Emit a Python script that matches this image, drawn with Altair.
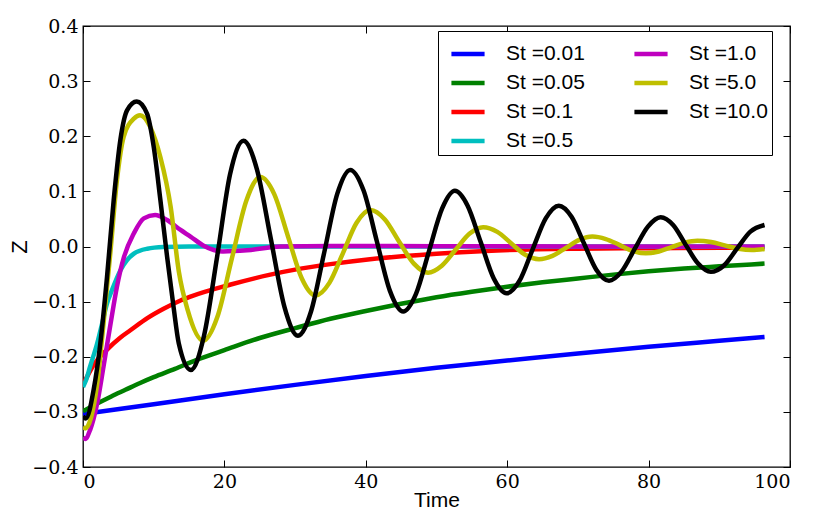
import altair as alt
import pandas as pd

# ---------------- data ----------------
labels = ["St =0.01", "St =0.05", "St =0.1", "St =0.5", "St =1.0", "St =5.0", "St =10.0"]
colors = ["#0000ff", "#008000", "#ff0000", "#00bfbf", "#bf00bf", "#bfbf00", "#000000"]

x_ticks = [0, 20, 40, 60, 80, 100]
y_ticks = [-0.4, -0.3, -0.2, -0.1, 0.0, 0.1, 0.2, 0.3, 0.4]

blue_t = [0, 10, 20, 30, 40, 50, 60, 70, 80, 90, 96.4]
blue_z = [-0.304, -0.286, -0.268, -0.251, -0.235, -0.220, -0.207, -0.194, -0.182, -0.171, -0.164]

green_t = [0, 2, 4, 6, 8, 10, 13, 16, 20, 25, 30, 35, 40, 45, 50, 55, 60, 65, 70, 75, 80, 85, 90, 96.4]
green_z = [-0.299, -0.285, -0.272, -0.260, -0.248, -0.237, -0.222, -0.206, -0.188, -0.166, -0.148,
           -0.131, -0.117, -0.104, -0.092, -0.082, -0.073, -0.065, -0.058, -0.051, -0.045, -0.040,
           -0.036, -0.031]

red_t = [0, 1.5, 3.4, 5.3, 6.7, 9.1, 11.4, 13.8, 15.2, 20.9, 26.5, 30, 35, 40.6, 50, 57, 70, 80, 96.4]
red_z = [-0.251, -0.215, -0.187, -0.165, -0.152, -0.130, -0.113, -0.098, -0.091, -0.069, -0.051,
         -0.042, -0.032, -0.023, -0.013, -0.008, -0.004, -0.003, -0.002]

cyan_t = [0, 0.5, 1.0, 2.0, 2.7, 3.4, 4.1, 5.3, 6.2, 7.2, 9.1, 11.4, 15, 30, 60, 96.4]
cyan_z = [-0.255, -0.240, -0.218, -0.176, -0.140, -0.103, -0.079, -0.043, -0.025, -0.013, -0.004,
          -0.001, 0.0, 0.0, 0.0, 0.0]

magenta_t = [0, 0.3, 1.0, 2.0, 2.9, 3.9, 4.8, 5.8, 7.2, 8.6, 10.2, 11.9, 13.8, 15.2, 17.0, 19.8,
             23.2, 27.9, 35, 50, 96.4]
magenta_z = [-0.346, -0.349, -0.333, -0.285, -0.218, -0.140, -0.073, -0.019, 0.024, 0.051, 0.057,
             0.048, 0.030, 0.018, 0.002, -0.009, -0.007, 0.000, 0.001, 0.0005, 0.0]

yellow_t = [0, 0.3, 2.0, 2.9, 3.9, 4.8, 5.75, 7.2, 8.07, 9.5, 10.95, 12.4, 13.55, 14.8, 17.0, 19.0,
            21.05, 23.1, 25.1, 27.05, 29.0, 30.95, 32.9, 34.85, 36.8, 38.7, 40.65, 42.7, 44.7, 46.8,
            48.8, 50.75, 52.7, 54.65, 56.6, 58.6, 60.55, 62.5, 64.5, 66.4, 68.3, 70.2, 72.05, 73.95,
            75.85, 77.7, 79.6, 81.45, 83.25, 85.1, 86.9, 88.85, 90.75, 92.7, 94.6, 96.4]
yellow_z = [-0.327, -0.330, -0.250, -0.140, -0.007, 0.120, 0.199, 0.232, 0.238, 0.217, 0.162, 0.072,
            -0.045, -0.115, -0.171, -0.128, -0.022, 0.083, 0.126, 0.095, 0.018, -0.058, -0.089,
            -0.066, -0.011, 0.043, 0.066, 0.049, 0.009, -0.031, -0.0475, -0.035, -0.006, 0.023,
            0.035, 0.0265, 0.006, -0.0145, -0.023, -0.017, -0.0025, 0.012, 0.018, 0.0135, 0.003,
            -0.008, -0.0124, -0.009, -0.001, 0.007, 0.0105, 0.008, 0.002, -0.004, -0.0065, -0.0045]

black_t = [0, 0.4, 1.5, 2.45, 3.4, 4.34, 5.28, 6.23, 7.6, 9.06, 10.0, 10.95, 11.9, 12.8, 13.55,
           15.25, 17.1, 19.0, 20.8, 22.7, 24.6, 26.55, 28.5, 30.4, 32.25, 34.1, 35.95, 37.8, 39.7,
           41.55, 43.4, 45.3, 47.1, 48.95, 50.8, 52.6, 54.4, 56.25, 58.1, 59.9, 61.75, 63.6, 65.45,
           67.3, 69.1, 70.85, 72.6, 74.4, 76.2, 78.05, 79.9, 81.7, 83.5, 85.25, 87.0, 88.8, 90.7,
           92.55, 94.4, 96.4]
black_z = [-0.308, -0.312, -0.260, -0.176, -0.055, 0.084, 0.193, 0.247, 0.263, 0.241, 0.181, 0.084,
           -0.019, -0.109, -0.176, -0.224, -0.163, -0.016, 0.131, 0.192, 0.140, 0.015, -0.110,
           -0.162, -0.118, -0.012, 0.095, 0.139, 0.101, 0.010, -0.080, -0.118, -0.086, -0.008,
           0.069, 0.101, 0.074, 0.008, -0.058, -0.085, -0.062, -0.005, 0.051, 0.074, 0.054, 0.006,
           -0.042, -0.062, -0.045, -0.004, 0.036, 0.053, 0.0385, 0.003, -0.031, -0.046, -0.034,
           -0.003, 0.027, 0.039]

series_t = [blue_t, green_t, red_t, cyan_t, magenta_t, yellow_t, black_t]
series_z = [blue_z, green_z, red_z, cyan_z, magenta_z, yellow_z, black_z]

rows = []
for lab, ts, zs in zip(labels, series_t, series_z):
    assert len(ts) == len(zs), lab
    for t, z in zip(ts, zs):
        rows.append({"St": lab, "Time": t, "Z": z})
df = pd.DataFrame(rows)

W, H = 707, 441
TICK_FONT = "DejaVu Serif"
TICK_SIZE = 19

xscale = alt.Scale(domain=[0, 100], nice=False, zero=False)
yscale = alt.Scale(domain=[-0.4, 0.4], nice=False, zero=False)
cscale = alt.Scale(domain=labels, range=colors)

legend = alt.Legend(
    orient="none", legendX=355, legendY=5, columns=2, title=None,
    symbolType="stroke", symbolStrokeWidth=4.5, symbolSize=1100, symbolOffset=7,
    labelFont="Liberation Sans", labelFontSize=21, labelColor="black", labelOffset=19,
    rowPadding=0, columnPadding=40, padding=4,
    strokeColor="black", fillColor="white", cornerRadius=0,
)

tick_common = dict(labels=False, domain=False, grid=False, tickSize=7, tickWidth=1,
                   tickColor="black", title="")


def axes_for(i):
    if i == 0:
        xa = alt.Axis(values=x_ticks, format="d", ticks=False, domain=False, grid=False,
                      labelPadding=5, title="Time", titlePadding=-2,
                      labelFont=TICK_FONT, labelFontSize=TICK_SIZE, labelColor="black",
                      titleFont="Liberation Sans", titleFontSize=21, titleFontWeight="normal",
                      titleColor="black")
        ya = alt.Axis(values=y_ticks, format=".1f", ticks=False, domain=False, grid=False,
                      labelPadding=5, title="Z", titleX=-64, titleY=H / 2, titleAngle=-90,
                      titleBaseline="middle", titleAlign="center",
                      labelFont=TICK_FONT, labelFontSize=TICK_SIZE, labelColor="black",
                      titleFont="Liberation Sans", titleFontSize=22, titleFontWeight="normal",
                      titleColor="black")
    elif i == 1:
        xa = alt.Axis(orient="top", offset=-H, values=x_ticks, **tick_common)
        ya = alt.Axis(orient="right", offset=-W, values=y_ticks, **tick_common)
    elif i == 2:
        xa = alt.Axis(orient="bottom", offset=-H, values=x_ticks, **tick_common)
        ya = alt.Axis(orient="left", offset=-W, values=y_ticks, **tick_common)
    else:
        xa = None
        ya = None
    return xa, ya


layers = []
for i, lab in enumerate(labels):
    xa, ya = axes_for(i)
    layer = alt.Chart(df).transform_filter(alt.datum.St == lab).mark_line(
        strokeWidth=4.5, interpolate="monotone", clip=True
    ).encode(
        x=alt.X("Time:Q", scale=xscale, axis=xa),
        y=alt.Y("Z:Q", scale=yscale, axis=ya),
        color=alt.Color("St:N", scale=cscale, legend=legend),
    )
    layers.append(layer)

chart = alt.layer(*layers).resolve_scale(
    x="independent", y="independent"
).resolve_axis(
    x="independent", y="independent"
).properties(
    width=W, height=H,
    background="white",
    autosize=alt.AutoSizeParams(type="none"),
    padding={"left": 75, "top": 18, "right": 32, "bottom": 44},
).configure_view(
    stroke="black", strokeWidth=1.3
).configure_axis(
    labelFont=TICK_FONT, labelFontSize=TICK_SIZE
)

chart.save("out.html", embed_options={"renderer": "svg", "actions": False})
